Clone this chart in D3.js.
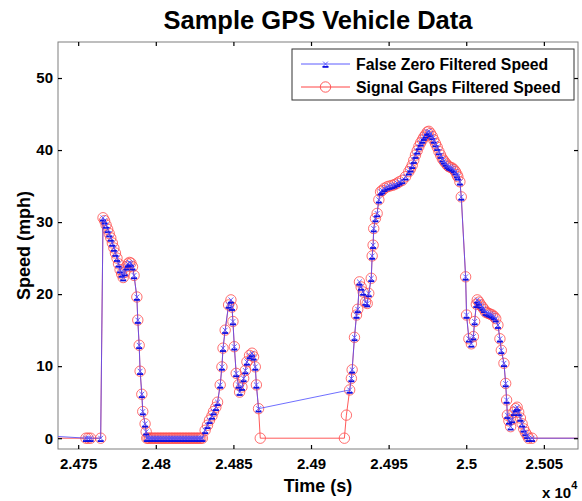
<!DOCTYPE html>
<html>
<head>
<meta charset="utf-8">
<script src="https://cdn.jsdelivr.net/npm/d3@7"></script>
<style>
  body { margin: 0; background: #fff; }
  text { font-family: Arial, "Liberation Sans", Helvetica, sans-serif; font-weight: bold; fill: #000; }
</style>
</head>
<body>
<div id="chart"></div>
<script>
// time stamps (s) shared by both traces
var time = [
  24733, 24755, 24756.5, 24758, 24764.5, 24766,
  24767, 24768, 24769, 24770, 24771, 24772, 24773, 24774, 24775, 24776,
  24777, 24778, 24779, 24780, 24781, 24782, 24783, 24784, 24785, 24786,
  24787.8, 24788.4, 24789.3, 24789.9, 24791, 24791.6, 24793.1, 24793.8, 24794.2,
  24795, 24796, 24797, 24798, 24799, 24800, 24801, 24802, 24803, 24804, 24805, 24806,
  24807, 24808, 24809, 24810, 24811, 24812, 24813, 24814, 24815, 24816, 24817, 24818,
  24819, 24820, 24821, 24822, 24823, 24824, 24825, 24826, 24827, 24828, 24829, 24830,
  24831.8, 24833.3, 24834.6, 24836.2, 24837.2, 24838.7, 24839.8, 24841.5, 24842.6, 24843.3,
  24844.7, 24846.9, 24848.4, 24849.1, 24849.7, 24850.6, 24851.8, 24853.3, 24854.0, 24855.5,
  24856.6, 24857.7, 24858.7, 24860.4, 24862.0, 24863.0, 24864.1, 24864.8, 24866.2,
  24867.3, 24921.5, 24922.8,
  24924.9, 24926.0, 24926.5, 24928.0, 24929.3, 24930.1, 24931.2, 24932.3, 24933.6, 24935.1,
  24936.2, 24937.2, 24938.8, 24939.4, 24940.0, 24940.4, 24941.5, 24942.6, 24943.7, 24944.8,
  24945.9, 24947.3, 24949.1, 24950.6, 24952.3, 24953.8, 24955.5, 24957.0, 24958.8, 24960.9,
  24963.0, 24964.1, 24965.2, 24966.2, 24967.3, 24968.4, 24969.5, 24970.6, 24971.7, 24972.7,
  24973.8, 24974.9, 24975.9, 24977.0, 24978.1, 24979.1, 24980.2, 24981.3, 24982.4, 24983.5,
  24984.6, 24985.6, 24986.7, 24987.8, 24988.8, 24989.9, 24991.0, 24992.0, 24993.1, 24994.0,
  24994.6, 24995.9, 24996.8,
  24999.6, 25000.2, 25001.7, 25003.3, 25004.6, 25005.4, 25006.5, 25007.1, 25008.2, 25009.3,
  25010.4, 25011.4, 25012.5, 25013.6, 25014.6, 25015.7, 25016.8, 25017.9, 25019.0, 25020.4,
  25021.7, 25022.6, 25024.3, 25025.4, 25026.0, 25026.5, 25027.5, 25028.6, 25029.6, 25030.7,
  25031.8, 25032.8, 25033.8, 25034.9, 25036.0, 25037.0, 25038.1, 25039.2, 25040.2, 25042.4,
  25077
];

// red trace: gaps in the signal pulled down to zero
var signalGapsSpeed = [
  0, 0, 0, 0, 0, 30.6,
  30.2, 29.6, 29.0, 28.4, 27.8, 27.1, 26.4, 25.7, 25.0, 24.2,
  23.4, 22.8, 22.3, 23.0, 23.8, 24.2, 24.4, 24.3, 23.8, 22.6,
  19.6, 16.4, 12.9, 9.3, 6.1, 3.7, 2.0, 0.9, 0,
  0, 0, 0, 0, 0, 0, 0, 0, 0, 0, 0, 0,
  0, 0, 0, 0, 0, 0, 0, 0, 0, 0, 0, 0,
  0, 0, 0, 0, 0, 0, 0, 0, 0, 0, 0, 0,
  1.1, 1.8, 2.5, 3.1, 3.7, 4.3, 5.0, 7.4, 9.9, 12.5,
  15.0, 18.5, 19.2, 18.2, 16.2, 12.7, 9.0, 7.4, 6.4, 7.1,
  8.3, 9.4, 10.6, 11.5, 11.8, 11.3, 9.9, 7.4, 4.1,
  0, 0, 3.2,
  6.7, 8.3, 9.5, 14.0, 17.1, 17.9, 21.7, 21.0, 20.3, 18.9,
  18.7, 20.1, 22.2, 25.3, 26.8, 29.1, 30.5, 31.2, 33.1, 34.2,
  34.4, 34.7, 34.9, 35.0, 35.1, 35.2, 35.4, 35.6, 35.8, 36.3,
  37.0, 37.4, 37.9, 38.6, 39.3, 39.9, 40.5, 41.0, 41.4, 41.8,
  42.1, 42.5, 42.6, 42.3, 41.9, 41.4, 40.9, 40.4, 39.8, 39.3,
  38.8, 38.5, 38.2, 37.9, 37.7, 37.6, 37.5, 37.3, 37.0, 36.6,
  36.3, 35.6, 33.5,
  22.4, 17.1, 13.8, 13.1, 14.1, 16.2, 18.6, 19.2, 18.9, 18.5,
  18.2, 17.9, 17.5, 17.4, 17.3, 17.2, 17.1, 16.9, 16.6, 15.7,
  13.8, 12.2, 10.4, 7.6, 5.3, 3.2, 2.4, 1.6, 2.6, 3.6,
  4.1, 4.3, 3.6, 2.8, 2.0, 1.3, 0.8, 0.4, 0, 0,
  0
];

// blue trace: false zeros dropped (null = no sample)
var falseZeroSpeed = [
  0.3, 0, 0, 0, 0, 30.6,
  30.2, 29.6, 29.0, 28.4, 27.8, 27.1, 26.4, 25.7, 25.0, 24.2,
  23.4, 22.8, 22.3, 23.0, 23.8, 24.2, 24.4, 24.3, 23.8, 22.6,
  19.6, 16.4, 12.9, 9.3, 6.1, 3.7, 2.0, 0.9, 0,
  0, 0, 0, 0, 0, 0, 0, 0, 0, 0, 0, 0,
  0, 0, 0, 0, 0, 0, 0, 0, 0, 0, 0, 0,
  0, 0, 0, 0, 0, 0, 0, 0, 0, 0, 0, 0,
  1.1, 1.8, 2.5, 3.1, 3.7, 4.3, 5.0, 7.4, 9.9, 12.5,
  15.0, 18.5, 19.2, 18.2, 16.2, 12.7, 9.0, 7.4, 6.4, 7.1,
  8.3, 9.4, 10.6, 11.5, 11.8, 11.3, 9.9, 7.4, 4.1,
  null, null, null,
  6.7, 8.3, 9.5, 14.0, 17.1, 17.9, 21.7, 21.0, 20.3, 18.9,
  18.7, 20.1, 22.2, 25.3, 26.8, 29.1, 30.5, 31.2, 33.1, 34.2,
  34.4, 34.7, 34.9, 35.0, 35.1, 35.2, 35.4, 35.6, 35.8, 36.3,
  37.0, 37.4, 37.9, 38.6, 39.3, 39.9, 40.5, 41.0, 41.4, 41.8,
  42.1, 42.5, 42.6, 42.3, 41.9, 41.4, 40.9, 40.4, 39.8, 39.3,
  38.8, 38.5, 38.2, 37.9, 37.7, 37.6, 37.5, 37.3, 37.0, 36.6,
  36.3, 35.6, 33.5,
  22.4, 17.1, 13.8, 13.1, 14.1, 16.2, 18.6, 19.2, 18.9, 18.5,
  18.2, 17.9, 17.5, 17.4, 17.3, 17.2, 17.1, 16.9, 16.6, 15.7,
  13.8, 12.2, 10.4, 7.6, 5.3, 3.2, 2.4, 1.6, 2.6, 3.6,
  4.1, 4.3, 3.6, 2.8, 2.0, 1.3, 0.8, 0.4, 0, 0,
  0
];

var xTicks = [24750, 24800, 24850, 24900, 24950, 25000, 25050];
var xTickLabels = ["2.475", "2.48", "2.485", "2.49", "2.495", "2.5", "2.505"];
var yTicks = [0, 10, 20, 30, 40, 50];
var seriesNames = ["False Zero Filtered Speed", "Signal Gaps Filtered Speed"];

var width = 582, height = 501;
var m = {left: 58, right: 578, top: 42, bottom: 449};

var x = d3.scaleLinear().domain([24737, 25072]).range([m.left, m.right]);
var y = d3.scaleLinear().domain([-1.5, 55]).range([m.bottom, m.top]);

var svg = d3.select("#chart").append("svg")
    .attr("width", width)
    .attr("height", height);

svg.append("defs").append("clipPath").attr("id", "plot")
  .append("rect")
    .attr("x", m.left).attr("y", m.top)
    .attr("width", m.right - m.left).attr("height", m.bottom - m.top);

// box
svg.append("rect")
    .attr("x", m.left).attr("y", m.top)
    .attr("width", m.right - m.left).attr("height", m.bottom - m.top)
    .attr("fill", "#fff")
    .attr("stroke", "#7f7f7f")
    .attr("stroke-width", 1);

var red = time.map(function(t, i) { return {t: t, v: signalGapsSpeed[i]}; });
var blue = time.map(function(t, i) { return {t: t, v: falseZeroSpeed[i]}; })
    .filter(function(d) { return d.v !== null; });

var line = d3.line()
    .x(function(d) { return x(d.t); })
    .y(function(d) { return y(d.v); });

var plot = svg.append("g").attr("clip-path", "url(#plot)");

plot.append("path")
    .datum(red)
    .attr("fill", "none")
    .attr("stroke", "#ff3030")
    .attr("stroke-width", 0.8)
    .attr("d", line);

plot.selectAll(".ring")
    .data(red)
  .enter().append("circle")
    .attr("class", "ring")
    .attr("cx", function(d) { return x(d.t); })
    .attr("cy", function(d) { return y(d.v); })
    .attr("r", 5.2)
    .attr("fill", "none")
    .attr("stroke", "#ff4a4a")
    .attr("stroke-width", 0.8);

plot.append("path")
    .datum(blue)
    .attr("fill", "none")
    .attr("stroke", "#4a4aff")
    .attr("stroke-width", 0.8)
    .attr("d", line);

function xMark(g) {
  g.append("path")
      .attr("d", "M-2.4,-2.4L2.4,2.4M2.4,-2.4L-2.4,2.4")
      .attr("stroke", "#5050ff")
      .attr("stroke-width", 0.9);
  g.append("rect")
      .attr("x", -3).attr("y", 2)
      .attr("width", 6).attr("height", 1.8)
      .attr("fill", "#1010e0");
}

plot.selectAll(".cross")
    .data(blue)
  .enter().append("g")
    .attr("class", "cross")
    .attr("transform", function(d) { return "translate(" + x(d.t) + "," + y(d.v) + ")"; })
    .each(function() { xMark(d3.select(this)); });

// axes, ticks pointing inward
var xAxis = svg.append("g")
    .attr("transform", "translate(0," + m.bottom + ")")
    .call(d3.axisBottom(x).tickValues(xTicks)
      .tickFormat(function(d, i) { return xTickLabels[i]; })
      .tickSizeInner(-4).tickSizeOuter(0).tickPadding(9));
var xTop = svg.append("g")
    .attr("transform", "translate(0," + m.top + ")")
    .call(d3.axisTop(x).tickValues(xTicks).tickFormat("").tickSizeInner(-4).tickSizeOuter(0));
var yAxis = svg.append("g")
    .attr("transform", "translate(" + m.left + ",0)")
    .call(d3.axisLeft(y).tickValues(yTicks).tickSizeInner(-4).tickSizeOuter(0).tickPadding(5));
var yRight = svg.append("g")
    .attr("transform", "translate(" + m.right + ",0)")
    .call(d3.axisRight(y).tickValues(yTicks).tickFormat("").tickSizeInner(-4).tickSizeOuter(0));

[xAxis, xTop, yAxis, yRight].forEach(function(a) {
  a.select(".domain").remove();
  a.selectAll(".tick line").attr("stroke", "#000").attr("stroke-width", 1.2);
  a.selectAll(".tick text").style("font-size", "15px").style("font-weight", "bold")
    .attr("font-family", null).attr("fill", "#000");
});

// titles
svg.append("text")
    .attr("x", 318).attr("y", 29)
    .attr("text-anchor", "middle")
    .style("font-size", "25.5px")
    .text("Sample GPS Vehicle Data");

svg.append("text")
    .attr("x", 318).attr("y", 492)
    .attr("text-anchor", "middle")
    .style("font-size", "18px")
    .text("Time (s)");

svg.append("text")
    .attr("transform", "translate(30," + (m.top + m.bottom) / 2 + ")rotate(-90)")
    .attr("text-anchor", "middle")
    .style("font-size", "18px")
    .text("Speed (mph)");

var mult = svg.append("text")
    .attr("x", 542).attr("y", 498)
    .style("font-size", "15px");
mult.append("tspan").text("x 10");
mult.append("tspan").attr("dy", -9).style("font-size", "11px").text("4");

// legend
var legend = svg.append("g");
legend.append("rect")
    .attr("x", 292).attr("y", 49)
    .attr("width", 282).attr("height", 51)
    .attr("fill", "#fff")
    .attr("stroke", "#333")
    .attr("stroke-width", 1);

var rows = [64, 87];
legend.append("line")
    .attr("x1", 301).attr("x2", 350).attr("y1", rows[0]).attr("y2", rows[0])
    .attr("stroke", "#4a4aff").attr("stroke-width", 0.9);
xMark(legend.append("g").attr("transform", "translate(325.5," + rows[0] + ")"));
legend.append("line")
    .attr("x1", 301).attr("x2", 350).attr("y1", rows[1]).attr("y2", rows[1])
    .attr("stroke", "#ff3030").attr("stroke-width", 0.9);
legend.append("circle")
    .attr("cx", 325.5).attr("cy", rows[1]).attr("r", 5.2)
    .attr("fill", "none").attr("stroke", "#ff4a4a").attr("stroke-width", 0.9);

legend.selectAll(".lbl")
    .data(seriesNames)
  .enter().append("text")
    .attr("class", "lbl")
    .attr("x", 356)
    .attr("y", function(d, i) { return rows[i] + 5.5; })
    .style("font-size", "15.8px")
    .text(function(d) { return d; });
</script>
</body>
</html>
